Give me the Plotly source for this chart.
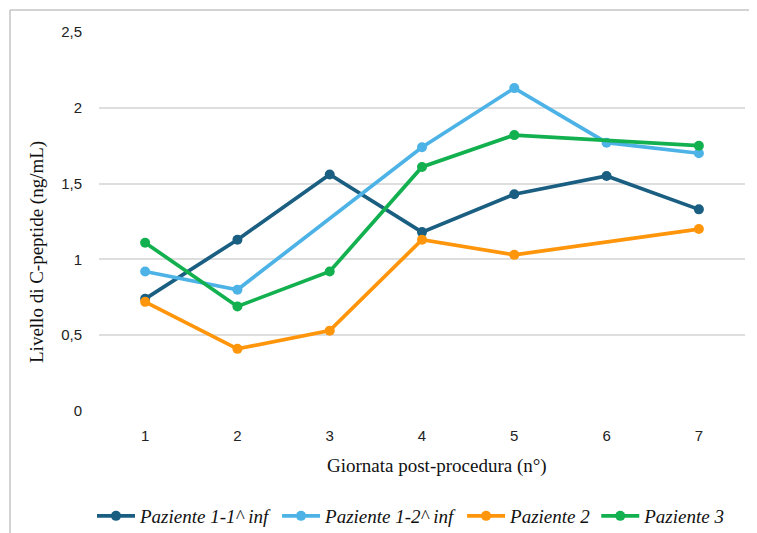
import plotly.graph_objects as go

days = ["1", "2", "3", "4", "5", "6", "7"]
series_names = ["Paziente 1-1^ inf", "Paziente 1-2^ inf", "Paziente 2", "Paziente 3"]
p1_inf1 = [0.74, 1.13, 1.56, 1.18, 1.43, 1.55, 1.33]
p1_inf2 = [0.92, 0.80, None, 1.74, 2.13, 1.77, 1.70]
p2 = [0.72, 0.41, 0.53, 1.13, 1.03, None, 1.20]
p3 = [1.11, 0.69, 0.92, 1.61, 1.82, None, 1.75]
colors = ["#1a5f82", "#4db3e6", "#ff950a", "#12b04f"]
y_ticks = [0, 0.5, 1, 1.5, 2, 2.5]
y_tick_labels = ["0", "0,5", "1", "1,5", "2", "2,5"]

fig = go.Figure()
for name, vals, col in zip(series_names, [p1_inf1, p1_inf2, p2, p3], colors):
    fig.add_trace(go.Scatter(
        x=days, y=vals, name=name, mode="lines+markers",
        connectgaps=True,
        line=dict(color=col, width=3.7),
        marker=dict(color=col, size=10),
    ))

# page body has an 8px default margin: work in reference pixels shifted by OFF
OFF = 8
W, H = 757, 533
L, T = 99 - OFF, 32 - OFF
pw, ph = 646, 379
R, B = W - L - pw, H - T - ph

def px_to_paper_x(px):
    return (px - OFF - L) / pw

def px_to_paper_y(py):
    return 1 - (py - OFF - T) / ph

serif = "Liberation Serif, Times New Roman, serif"

fig.update_layout(
    width=W, height=H,
    margin=dict(l=L, r=R, t=T, b=B, autoexpand=False),
    paper_bgcolor="white", plot_bgcolor="white",
    font=dict(family="Liberation Sans, Arial, sans-serif", size=15, color="#222"),
    showlegend=True,
    legend=dict(
        orientation="h", xref="container", yref="container",
        x=(411 - OFF) / W, xanchor="center",
        y=1 - (516 - OFF) / H, yanchor="middle",
        font=dict(family=serif, size=19, color="#111", style="italic"),
        tracegroupgap=0, itemwidth=38,
    ),
    xaxis=dict(
        type="category", range=[-0.5, 6.5], showgrid=False, zeroline=False,
        showline=False, ticks="", ticklabelstandoff=14,
        tickfont=dict(size=15, color="#222"),
    ),
    yaxis=dict(
        range=[0, 2.5], tickvals=y_ticks, ticktext=y_tick_labels,
        showgrid=True, gridcolor="#dedede", gridwidth=1.5,
        zeroline=False, showline=False, ticks="", ticklabelstandoff=16,
        tickfont=dict(size=15, color="#222"),
    ),
    shapes=[
        dict(type="line", xref="paper", yref="paper",
             x0=px_to_paper_x(10), x1=px_to_paper_x(10),
             y0=px_to_paper_y(545), y1=px_to_paper_y(10),
             line=dict(color="#c4c4c4", width=1.5)),
        dict(type="line", xref="paper", yref="paper",
             x0=px_to_paper_x(10), x1=px_to_paper_x(770),
             y0=px_to_paper_y(10), y1=px_to_paper_y(10),
             line=dict(color="#c4c4c4", width=1.5)),
    ],
    annotations=[
        dict(text="Giornata post-procedura (n°)", xref="paper", yref="paper",
             x=px_to_paper_x(437), y=px_to_paper_y(466), xanchor="center", yanchor="middle",
             showarrow=False,
             font=dict(family=serif, size=19, color="#111")),
        dict(text="Livello di C-peptide (ng/mL)", xref="paper", yref="paper",
             x=px_to_paper_x(37), y=px_to_paper_y(252), xanchor="center", yanchor="middle",
             showarrow=False, textangle=-90,
             font=dict(family=serif, size=19, color="#111")),
    ],
)

fig.write_html("out.html")
